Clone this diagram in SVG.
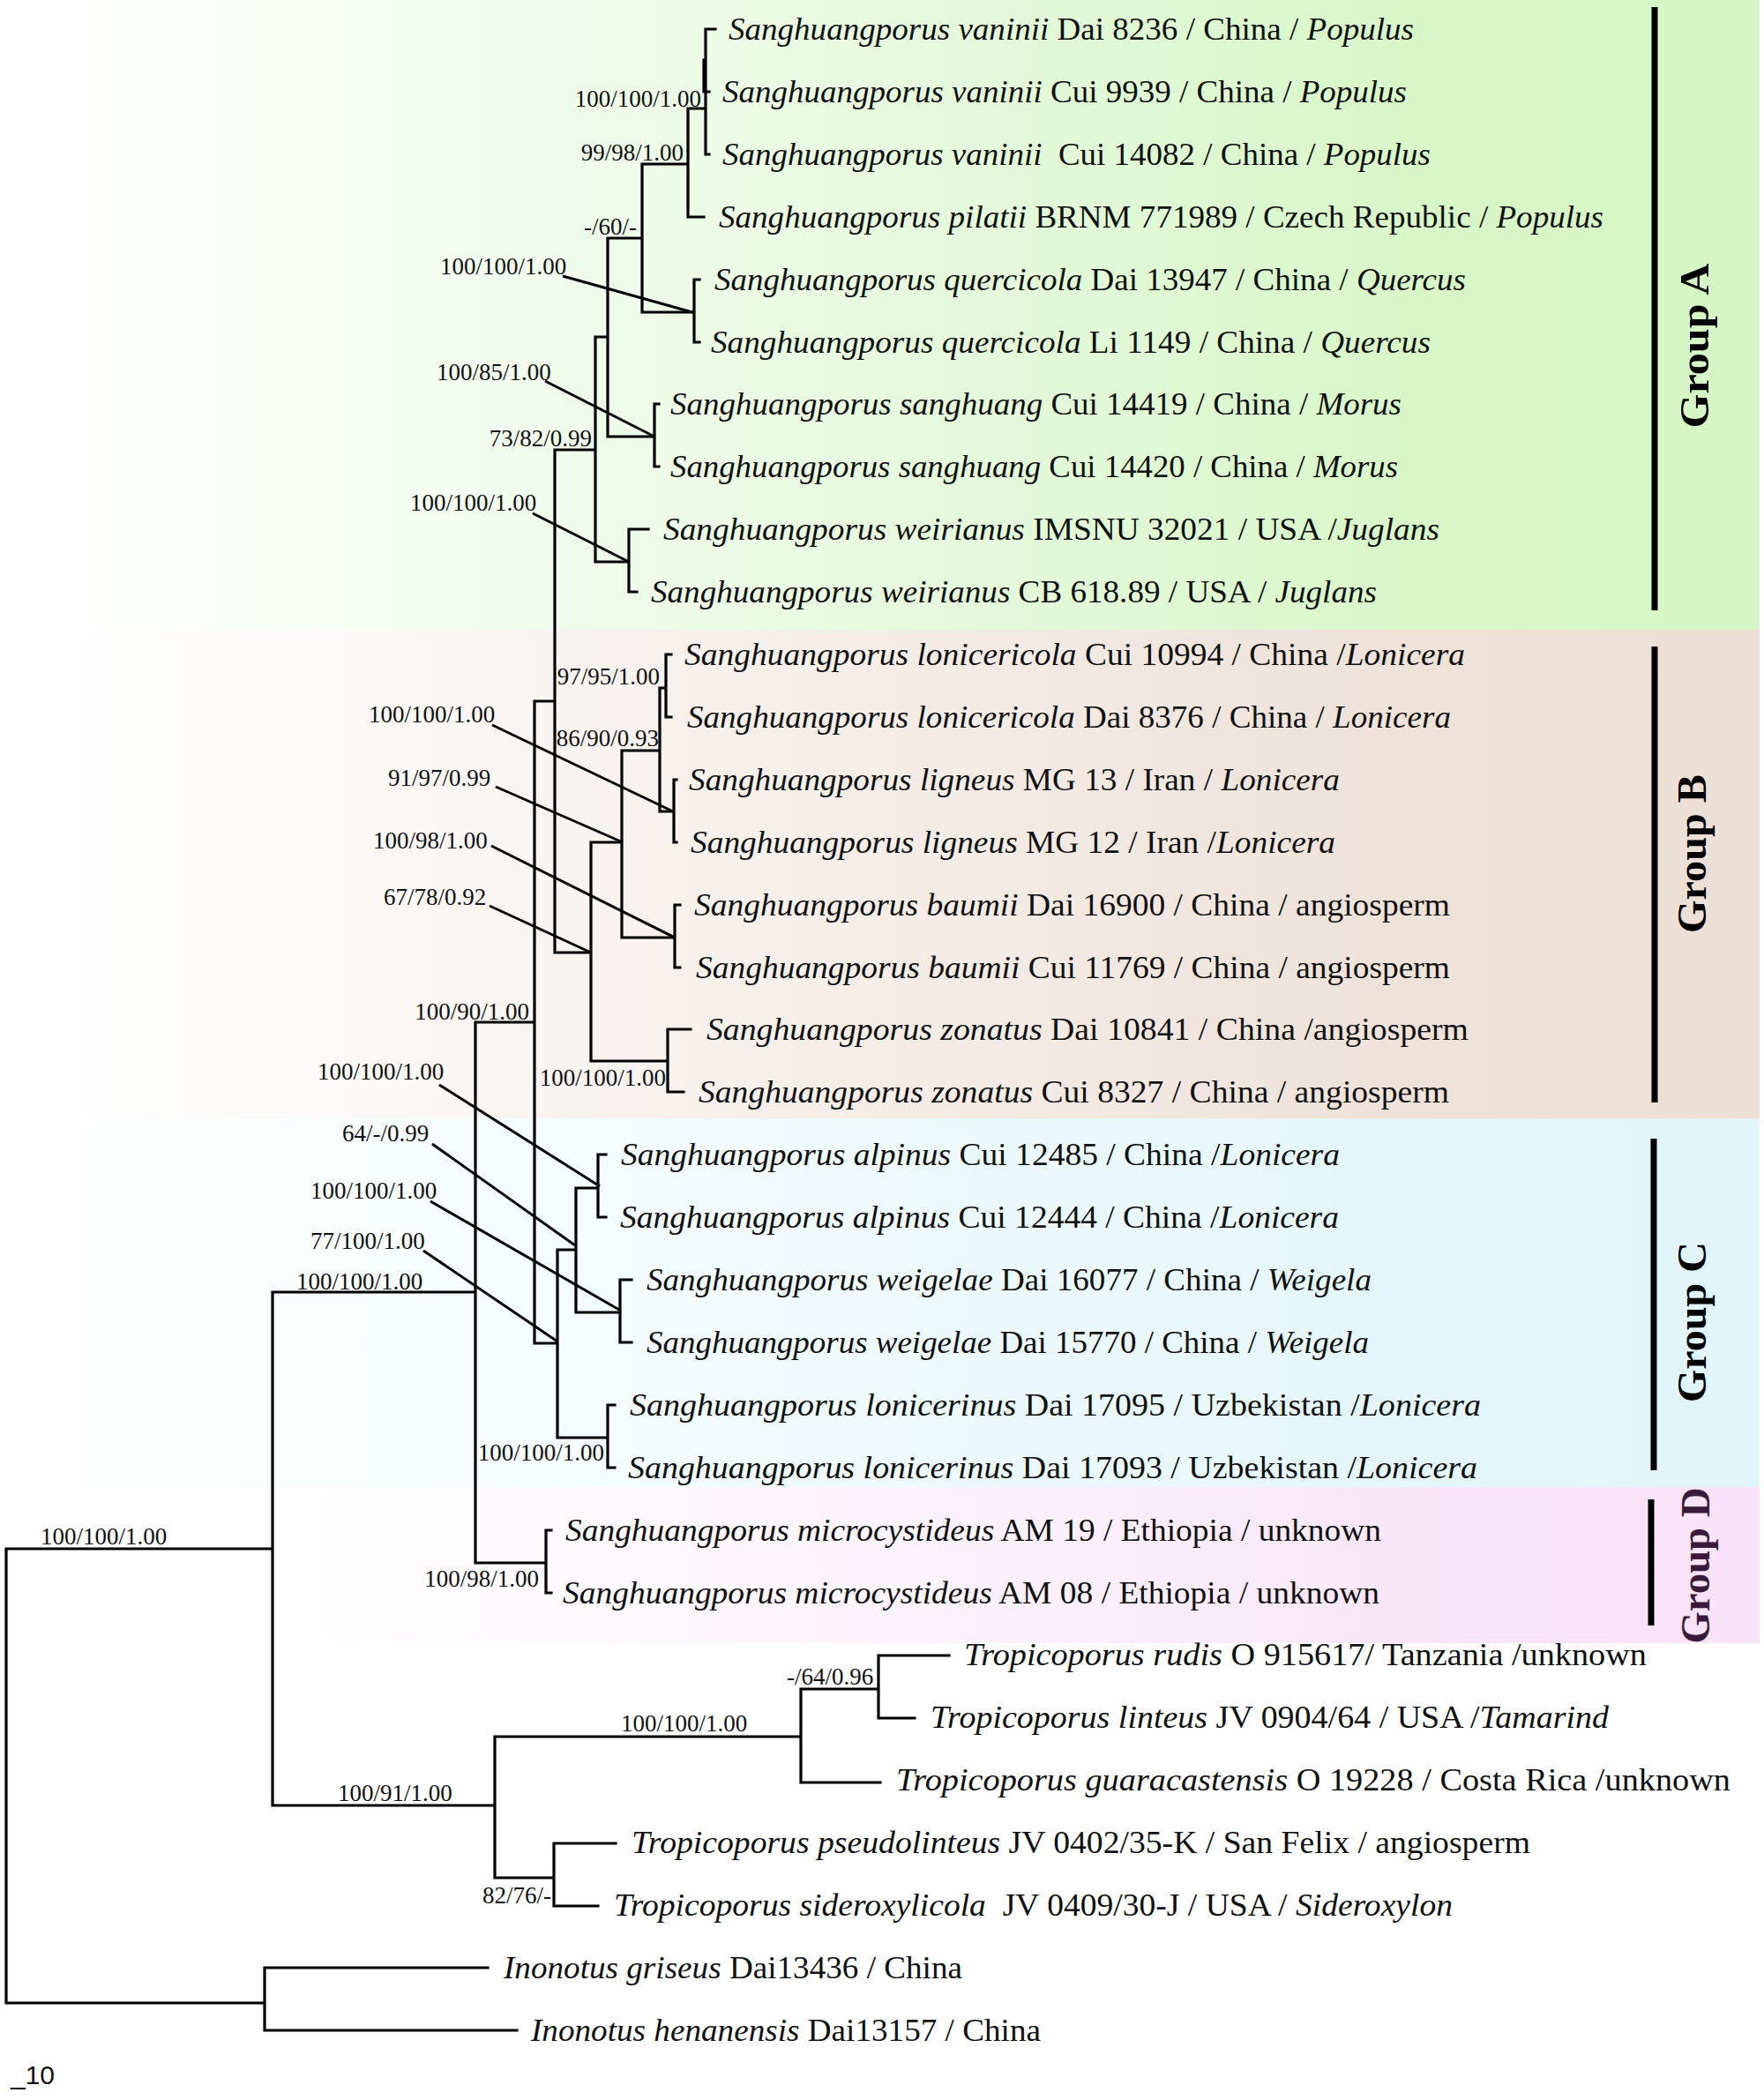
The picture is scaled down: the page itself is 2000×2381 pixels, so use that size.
<svg xmlns="http://www.w3.org/2000/svg" width="2000" height="2381" viewBox="0 0 2000 2381">
<style>
.lf{font-family:"Liberation Serif","Times New Roman",serif;font-size:35px;fill:#111}
.it{font-style:italic}
.sv{font-family:"Liberation Serif","Times New Roman",serif;font-size:27px;fill:#111}
.br{fill:none;stroke:#000;stroke-width:3.2;stroke-linecap:square}
.ld{fill:none;stroke:#000;stroke-width:3}
.grp{font-family:"Liberation Serif","Times New Roman",serif;font-weight:bold;font-size:46px;fill:#000}
.bar{stroke:#000;stroke-width:7}
.sc{font-family:"Liberation Sans",Arial,sans-serif;font-size:30px;fill:#111}
</style>
<defs>
<linearGradient id="gA" gradientUnits="userSpaceOnUse" x1="0" y1="0" x2="1995" y2="0">
<stop offset="0.03" stop-color="#ffffff"/><stop offset="0.5" stop-color="#e7fadf"/><stop offset="0.8" stop-color="#d8f7c9"/><stop offset="1" stop-color="#d4f6c4"/>
</linearGradient>
<linearGradient id="gB" gradientUnits="userSpaceOnUse" x1="0" y1="0" x2="1995" y2="0">
<stop offset="0.03" stop-color="#ffffff"/><stop offset="0.5" stop-color="#f4ede8"/><stop offset="0.8" stop-color="#eee2d9"/><stop offset="1" stop-color="#ecdfd5"/>
</linearGradient>
<linearGradient id="gC" gradientUnits="userSpaceOnUse" x1="0" y1="0" x2="1995" y2="0">
<stop offset="0.03" stop-color="#ffffff"/><stop offset="0.5" stop-color="#eefafc"/><stop offset="0.8" stop-color="#e4f6fa"/><stop offset="1" stop-color="#e1f5fa"/>
</linearGradient>
<linearGradient id="gD" gradientUnits="userSpaceOnUse" x1="330" y1="0" x2="1995" y2="0">
<stop offset="0" stop-color="#ffffff"/><stop offset="0.45" stop-color="#fbf2fb"/><stop offset="0.8" stop-color="#f9e5f9"/><stop offset="1" stop-color="#f8e2f8"/>
</linearGradient>
</defs>
<rect width="2000" height="2381" fill="#ffffff"/>
<g id="backgrounds">
<rect x="0" y="0" width="1995" height="714" fill="url(#gA)"/>
<rect x="0" y="714" width="1995" height="554" fill="url(#gB)"/>
<rect x="0" y="1268" width="1995" height="418" fill="url(#gC)"/>
<rect x="330" y="1686" width="1665" height="177" fill="url(#gD)"/>
</g>
<g id="connectors">
<path class="br" d="M800,33 H811 M800,33 V175 M800,104 H804 M800,175 H804 M798,68 V104
M780,123 H800 M780,123 V246 H798
M728,186 H780 M728,186 V354 H787
M787,317 V388 M787,317 H793 M787,388 H793
M689,270 H728 M689,270 V495 H742
M742,458 V529 M742,458 H747 M742,529 H747
M675,382 H689 M675,382 V637 H713
M713,600 V671 M713,600 H735 M713,671 H722
M629,510 H675 M629,510 V1080 H670
M606,795 H629
M670,955 V1203 M670,955 H705 M670,1203 H757
M757,1167 V1238 M757,1167 H783 M757,1238 H775
M705,851 V1063 M705,851 H748 M705,1063 H765
M765,1026 V1097 M765,1026 H771 M765,1097 H771
M748,780 V920 M748,780 H755 M748,920 H764
M755,742 V813 M755,742 H761 M755,813 H761
M764,884 V955 M764,884 H767 M764,955 H767
M606,795 V1523 M539,1159 H606 M606,1523 H632
M632,1417 V1630 M632,1417 H653 M632,1630 H689
M689,1593 V1664 M689,1593 H697 M689,1664 H697
M653,1347 V1488 M653,1347 H678 M653,1488 H703
M678,1309 V1380 M678,1309 H687 M678,1380 H687
M703,1451 V1522 M703,1451 H716 M703,1522 H716
M539,1159 V1772 M309,1465 H539 M539,1772 H619
M619,1735 V1806 M619,1735 H625 M619,1806 H625
M309,1465 V2047 M7,1756 H309 M309,2047 H561
M561,1969 V2129 M561,1969 H908 M561,2129 H628
M908,1915 V2021 M908,1915 H996 M908,2021 H998
M996,1877 V1948 M996,1877 H1076 M996,1948 H1037
M628,2090 V2161 M628,2090 H698 M628,2161 H678
M7,1756 V2271 M7,2271 H300
M300,2231 V2302 M300,2231 H553 M300,2302 H586"/>
<path class="ld" d="M638,313 L785,354 M618,432 L742,495 M604,582 L713,637 M558,822 L763,920 M562,892 L706,955 M557,959 L765,1063 M555,1027 L670,1080 M498,1230 L680,1345 M490,1297 L652,1412 M488,1362 L702,1485 M480,1418 L632,1521"/>
</g>
<g id="support-values">
<text class="sv" x="795" y="121" text-anchor="end">100/100/1.00</text>
<text class="sv" x="775" y="182" text-anchor="end">99/98/1.00</text>
<text class="sv" x="722" y="266" text-anchor="end">-/60/-</text>
<text class="sv" x="499" y="311">100/100/1.00</text>
<text class="sv" x="495" y="431">100/85/1.00</text>
<text class="sv" x="671" y="506" text-anchor="end">73/82/0.99</text>
<text class="sv" x="465" y="579">100/100/1.00</text>
<text class="sv" x="748" y="776" text-anchor="end">97/95/1.00</text>
<text class="sv" x="747" y="846" text-anchor="end">86/90/0.93</text>
<text class="sv" x="418" y="819">100/100/1.00</text>
<text class="sv" x="440" y="891">91/97/0.99</text>
<text class="sv" x="423" y="962">100/98/1.00</text>
<text class="sv" x="435" y="1026">67/78/0.92</text>
<text class="sv" x="600" y="1156" text-anchor="end">100/90/1.00</text>
<text class="sv" x="755" y="1231" text-anchor="end">100/100/1.00</text>
<text class="sv" x="360" y="1224">100/100/1.00</text>
<text class="sv" x="388" y="1294">64/-/0.99</text>
<text class="sv" x="352" y="1359">100/100/1.00</text>
<text class="sv" x="352" y="1416">77/100/1.00</text>
<text class="sv" x="336" y="1462">100/100/1.00</text>
<text class="sv" x="685" y="1656" text-anchor="end">100/100/1.00</text>
<text class="sv" x="611" y="1799" text-anchor="end">100/98/1.00</text>
<text class="sv" x="46" y="1751">100/100/1.00</text>
<text class="sv" x="383" y="2042">100/91/1.00</text>
<text class="sv" x="704" y="1963">100/100/1.00</text>
<text class="sv" x="892" y="1910">-/64/0.96</text>
<text class="sv" x="547" y="2158">82/76/-</text>
</g>
<g id="taxa">
<g id="t1"><text class="lf" x="826" y="45" textLength="777" lengthAdjust="spacingAndGlyphs"><tspan class="it">Sanghuangporus vaninii</tspan> Dai 8236 / China / <tspan class="it">Populus</tspan></text></g>
<g id="t2"><text class="lf" x="819" y="116" textLength="776" lengthAdjust="spacingAndGlyphs"><tspan class="it">Sanghuangporus vaninii</tspan> Cui 9939 / China / <tspan class="it">Populus</tspan></text></g>
<g id="t3"><text class="lf" x="819" y="187" textLength="803" lengthAdjust="spacingAndGlyphs"><tspan class="it">Sanghuangporus vaninii</tspan>&#160; Cui 14082 / China / <tspan class="it">Populus</tspan></text></g>
<g id="t4"><text class="lf" x="815" y="258" textLength="1003" lengthAdjust="spacingAndGlyphs"><tspan class="it">Sanghuangporus pilatii</tspan> BRNM 771989 / Czech Republic / <tspan class="it">Populus</tspan></text></g>
<g id="t5"><text class="lf" x="810" y="329" textLength="852" lengthAdjust="spacingAndGlyphs"><tspan class="it">Sanghuangporus quercicola</tspan> Dai 13947 / China / <tspan class="it">Quercus</tspan></text></g>
<g id="t6"><text class="lf" x="806" y="400" textLength="816" lengthAdjust="spacingAndGlyphs"><tspan class="it">Sanghuangporus quercicola</tspan> Li 1149 / China / <tspan class="it">Quercus</tspan></text></g>
<g id="t7"><text class="lf" x="760" y="470" textLength="829" lengthAdjust="spacingAndGlyphs"><tspan class="it">Sanghuangporus sanghuang</tspan> Cui 14419 / China / <tspan class="it">Morus</tspan></text></g>
<g id="t8"><text class="lf" x="760" y="541" textLength="825" lengthAdjust="spacingAndGlyphs"><tspan class="it">Sanghuangporus sanghuang</tspan> Cui 14420 / China / <tspan class="it">Morus</tspan></text></g>
<g id="t9"><text class="lf" x="752" y="612" textLength="880" lengthAdjust="spacingAndGlyphs"><tspan class="it">Sanghuangporus weirianus</tspan> IMSNU 32021 / USA /<tspan class="it">Juglans</tspan></text></g>
<g id="t10"><text class="lf" x="738" y="683" textLength="823" lengthAdjust="spacingAndGlyphs"><tspan class="it">Sanghuangporus weirianus</tspan> CB 618.89 / USA / <tspan class="it">Juglans</tspan></text></g>
<g id="t11"><text class="lf" x="776" y="754" textLength="885" lengthAdjust="spacingAndGlyphs"><tspan class="it">Sanghuangporus lonicericola</tspan> Cui 10994 / China /<tspan class="it">Lonicera</tspan></text></g>
<g id="t12"><text class="lf" x="779" y="825" textLength="866" lengthAdjust="spacingAndGlyphs"><tspan class="it">Sanghuangporus lonicericola</tspan> Dai 8376 / China / <tspan class="it">Lonicera</tspan></text></g>
<g id="t13"><text class="lf" x="781" y="896" textLength="738" lengthAdjust="spacingAndGlyphs"><tspan class="it">Sanghuangporus ligneus</tspan> MG 13 / Iran / <tspan class="it">Lonicera</tspan></text></g>
<g id="t14"><text class="lf" x="783" y="967" textLength="731" lengthAdjust="spacingAndGlyphs"><tspan class="it">Sanghuangporus ligneus</tspan> MG 12 / Iran /<tspan class="it">Lonicera</tspan></text></g>
<g id="t15"><text class="lf" x="787" y="1038" textLength="857" lengthAdjust="spacingAndGlyphs"><tspan class="it">Sanghuangporus baumii</tspan> Dai 16900 / China / angiosperm</text></g>
<g id="t16"><text class="lf" x="789" y="1109" textLength="855" lengthAdjust="spacingAndGlyphs"><tspan class="it">Sanghuangporus baumii</tspan> Cui 11769 / China / angiosperm</text></g>
<g id="t17"><text class="lf" x="801" y="1179" textLength="864" lengthAdjust="spacingAndGlyphs"><tspan class="it">Sanghuangporus zonatus</tspan> Dai 10841 / China /angiosperm</text></g>
<g id="t18"><text class="lf" x="792" y="1250" textLength="851" lengthAdjust="spacingAndGlyphs"><tspan class="it">Sanghuangporus zonatus</tspan> Cui 8327 / China / angiosperm</text></g>
<g id="t19"><text class="lf" x="704" y="1321" textLength="815" lengthAdjust="spacingAndGlyphs"><tspan class="it">Sanghuangporus alpinus</tspan> Cui 12485 / China /<tspan class="it">Lonicera</tspan></text></g>
<g id="t20"><text class="lf" x="703" y="1392" textLength="815" lengthAdjust="spacingAndGlyphs"><tspan class="it">Sanghuangporus alpinus</tspan> Cui 12444 / China /<tspan class="it">Lonicera</tspan></text></g>
<g id="t21"><text class="lf" x="733" y="1463" textLength="822" lengthAdjust="spacingAndGlyphs"><tspan class="it">Sanghuangporus weigelae</tspan> Dai 16077 / China / <tspan class="it">Weigela</tspan></text></g>
<g id="t22"><text class="lf" x="733" y="1534" textLength="819" lengthAdjust="spacingAndGlyphs"><tspan class="it">Sanghuangporus weigelae</tspan> Dai 15770 / China / <tspan class="it">Weigela</tspan></text></g>
<g id="t23"><text class="lf" x="714" y="1605" textLength="965" lengthAdjust="spacingAndGlyphs"><tspan class="it">Sanghuangporus lonicerinus</tspan> Dai 17095 / Uzbekistan /<tspan class="it">Lonicera</tspan></text></g>
<g id="t24"><text class="lf" x="712" y="1676" textLength="963" lengthAdjust="spacingAndGlyphs"><tspan class="it">Sanghuangporus lonicerinus</tspan> Dai 17093 / Uzbekistan /<tspan class="it">Lonicera</tspan></text></g>
<g id="t25"><text class="lf" x="641" y="1747" textLength="925" lengthAdjust="spacingAndGlyphs"><tspan class="it">Sanghuangporus microcystideus</tspan> AM 19 / Ethiopia / unknown</text></g>
<g id="t26"><text class="lf" x="638" y="1818" textLength="926" lengthAdjust="spacingAndGlyphs"><tspan class="it">Sanghuangporus microcystideus</tspan> AM 08 / Ethiopia / unknown</text></g>
<g id="t27"><text class="lf" x="1093" y="1888" textLength="774" lengthAdjust="spacingAndGlyphs"><tspan class="it">Tropicoporus rudis</tspan> O 915617/ Tanzania /unknown</text></g>
<g id="t28"><text class="lf" x="1055" y="1959" textLength="769" lengthAdjust="spacingAndGlyphs"><tspan class="it">Tropicoporus linteus</tspan> JV 0904/64 / USA /<tspan class="it">Tamarind</tspan></text></g>
<g id="t29"><text class="lf" x="1016" y="2030" textLength="946" lengthAdjust="spacingAndGlyphs"><tspan class="it">Tropicoporus guaracastensis</tspan> O 19228 / Costa Rica /unknown</text></g>
<g id="t30"><text class="lf" x="716" y="2101" textLength="1019" lengthAdjust="spacingAndGlyphs"><tspan class="it">Tropicoporus pseudolinteus</tspan> JV 0402/35-K / San Felix / angiosperm</text></g>
<g id="t31"><text class="lf" x="696" y="2172" textLength="951" lengthAdjust="spacingAndGlyphs"><tspan class="it">Tropicoporus sideroxylicola</tspan>&#160; JV 0409/30-J / USA / <tspan class="it">Sideroxylon</tspan></text></g>
<g id="t32"><text class="lf" x="571" y="2243" textLength="520" lengthAdjust="spacingAndGlyphs"><tspan class="it">Inonotus griseus</tspan> Dai13436 / China</text></g>
<g id="t33"><text class="lf" x="602" y="2314" textLength="578" lengthAdjust="spacingAndGlyphs"><tspan class="it">Inonotus henanensis</tspan> Dai13157 / China</text></g>
</g>
<g id="groups">
<g id="groupA"><line class="bar" x1="1876" y1="8" x2="1876" y2="692"/><text class="grp" transform="translate(1937,392) rotate(-90)" text-anchor="middle" textLength="187" lengthAdjust="spacingAndGlyphs">Group A</text></g>
<g id="groupB"><line class="bar" x1="1876" y1="733" x2="1876" y2="1250"/><text class="grp" transform="translate(1934,968) rotate(-90)" text-anchor="middle" textLength="180" lengthAdjust="spacingAndGlyphs">Group B</text></g>
<g id="groupC"><line class="bar" x1="1875" y1="1291" x2="1875" y2="1667"/><text class="grp" transform="translate(1934,1499) rotate(-90)" text-anchor="middle" textLength="182" lengthAdjust="spacingAndGlyphs">Group C</text></g>
<g id="groupD"><line class="bar" x1="1872" y1="1700" x2="1872" y2="1843"/><text class="grp" transform="translate(1938,1775) rotate(-90)" text-anchor="middle" textLength="177" lengthAdjust="spacingAndGlyphs" fill="#3a1a3a" style="fill:#3a1a3a">Group D</text></g>
</g>
<g id="scale"><text class="sc" x="12" y="2363">_10</text></g>
</svg>
